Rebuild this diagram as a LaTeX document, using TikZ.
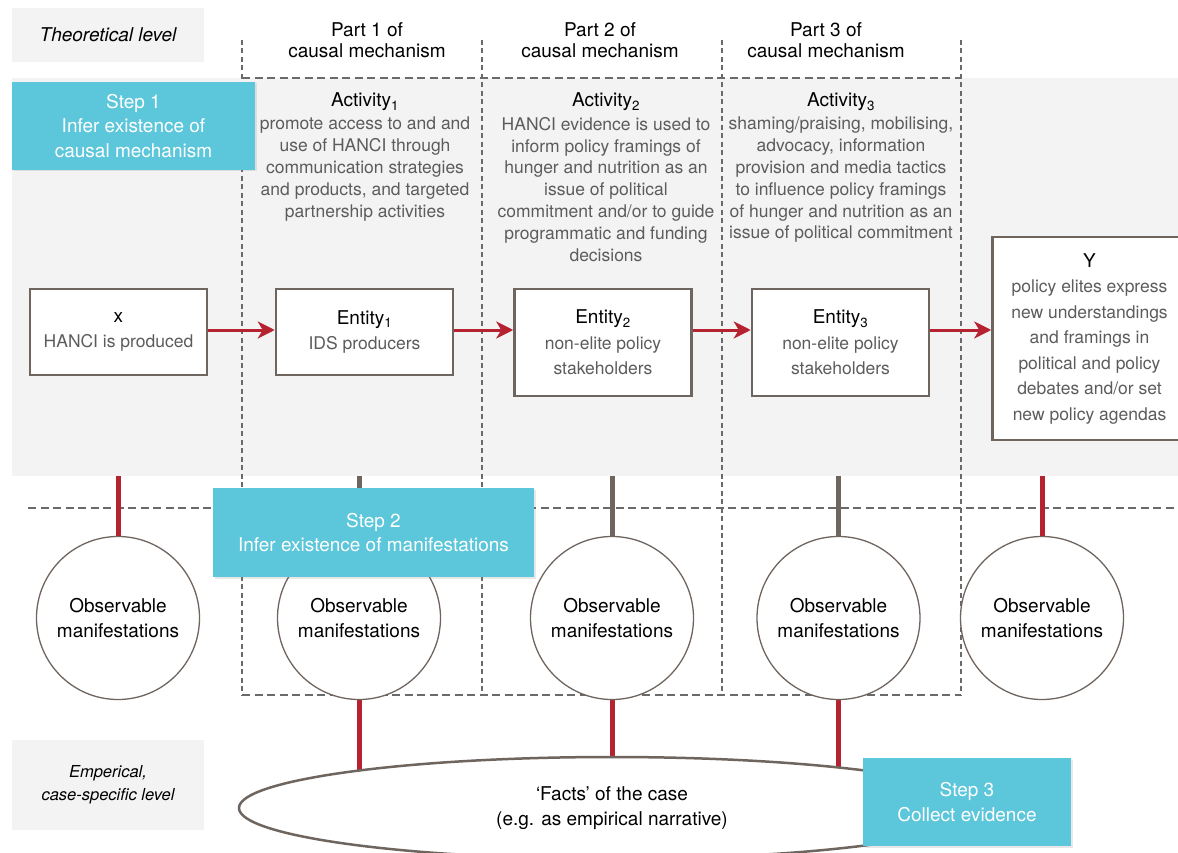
\documentclass[tikz,border=0pt]{standalone}
\usepackage{fontspec}
\setmainfont{TeX Gyre Heros}
\usepackage{xcolor}
\usepackage{tikz}
\usetikzlibrary{shapes.geometric, arrows.meta, positioning, backgrounds, shadows}
\definecolor{stepcyan}{HTML}{5CC6DA}
\definecolor{linkred}{HTML}{B52330}
\definecolor{framegray}{HTML}{6F655F}
\definecolor{bandgray}{HTML}{F3F3F3}
\definecolor{textgray}{HTML}{5C5C5C}
\definecolor{dashgray}{HTML}{6A6A6A}
\newcommand{\headsize}{\fontsize{19}{24.5}\selectfont}
\newcommand{\subsize}{\fontsize{17.5}{25.5}\selectfont}
\newcommand{\bodysize}{\fontsize{17.5}{21.8}\selectfont}
\tikzstyle{entity} = [rectangle, draw=framegray, line width=2.5pt, fill=white, align=center, inner sep=0pt, minimum width=177pt, font=\subsize]
\tikzstyle{stepbox} = [rectangle, fill=stepcyan, text=white, align=center, inner sep=0pt, font=\headsize, drop shadow={shadow xshift=1.5pt, shadow yshift=-1.5pt, opacity=0.18}]
\tikzstyle{levelbox} = [rectangle, fill=bandgray, align=center, inner sep=0pt]
\tikzstyle{obs} = [circle, draw=framegray, line width=1.3pt, fill=white, minimum size=163pt, align=center, inner sep=0pt, font=\headsize]
\tikzstyle{heading} = [align=center, inner sep=0pt, font=\headsize]
\tikzstyle{bodytext} = [align=center, inner sep=0pt, text=textgray, font=\bodysize]
\tikzstyle{arrow} = [linkred, line width=3pt, -{Stealth[length=17pt, width=17pt, inset=5pt]}]
\tikzstyle{redlink} = [linkred, line width=5pt]
\tikzstyle{graylink} = [framegray, line width=5pt]
\tikzstyle{vdivider} = [dashgray, line width=1.2pt, dash pattern=on 5pt off 3.5pt]
\tikzstyle{hdivider} = [dashgray, line width=1.3pt, dash pattern=on 8pt off 4.5pt]

\begin{document}
\begin{tikzpicture}[x=1pt, y=-1pt]
\useasboundingbox (0,0) rectangle (1178,853);
\clip (0,0) rectangle (1178,853);

% theoretical band and column grid
\fill[bandgray] (12,78) rectangle (1178,476);
\foreach \xx in {242,482,722,961}
  \draw[vdivider] (\xx,40) -- (\xx,695);
\draw[hdivider] (242,78) -- (961,78);
\draw[hdivider] (242,695) -- (961,695);
\draw[hdivider] (28,508) -- (1178,508);
\coordinate (bandfoot) at (0,476);

% level labels
\node (theory) [levelbox, minimum width=192pt, minimum height=54pt, font=\itshape\fontsize{19}{24}\selectfont] at (108,35) {Theoretical level};
\node (empiric) [levelbox, minimum width=192pt, minimum height=90pt, font=\itshape\fontsize{16.5}{23}\selectfont] at (108,785) {Emperical,\\case-specific level};

% parts of the mechanism
\node (part1) [heading, font=\fontsize{19}{20.5}\selectfont] at (367,40) {Part 1 of\\causal mechanism};
\node (part2) [heading, font=\fontsize{19}{20.5}\selectfont] at (600,40) {Part 2 of\\causal mechanism};
\node (part3) [heading, font=\fontsize{19}{20.5}\selectfont] at (826,40) {Part 3 of\\causal mechanism};

% activities
\node (act1) [heading, anchor=base] at (365,107) {Activity\textsubscript{1}};
\node (act1txt) [bodytext, anchor=north] at (365,117) {promote access to and and\\use of HANCI through\\communication strategies\\and products, and targeted\\partnership activities};
\node (act2) [heading, anchor=base] at (606,107) {Activity\textsubscript{2}};
\node (act2txt) [bodytext, anchor=north] at (606,117) {HANCI evidence is used to\\inform policy framings of\\hunger and nutrition as an\\issue of political\\commitment and/or to guide\\programmatic and funding\\decisions};
\node (act3) [heading, anchor=base] at (841,107) {Activity\textsubscript{3}};
\node (act3txt) [bodytext, anchor=north] at (841,117) {shaming/praising, mobilising,\\advocacy, information\\provision and media tactics\\to influence policy framings\\of hunger and nutrition as an\\issue of political commitment};

% entities
\node (xbox) [entity, minimum height=86pt] at (118.5,332) {{\headsize x}\\{\color{textgray}HANCI is produced}};
\node (ent1) [entity, minimum height=86pt] at (364.5,332) {{\headsize Entity\textsubscript{1}}\\{\color{textgray}IDS producers}};
\node (ent2) [entity, minimum height=107pt] at (603,342.5) {{\headsize Entity\textsubscript{2}}\\{\color{textgray}non-elite policy}\\{\color{textgray}stakeholders}};
\node (ent3) [entity, minimum height=107pt] at (840.5,342.5) {{\headsize Entity\textsubscript{3}}\\{\color{textgray}non-elite policy}\\{\color{textgray}stakeholders}};
\node (ybox) [entity, minimum width=194pt, minimum height=203pt] at (1089.5,338.5) {{\headsize Y}\\{\color{textgray}policy elites express}\\{\color{textgray}new understandings}\\{\color{textgray}and framings in}\\{\color{textgray}political and policy}\\{\color{textgray}debates and/or set}\\{\color{textgray}new policy agendas}};

\draw[arrow] (xbox.east |- 0,330) -- (ent1.west |- 0,330);
\draw[arrow] (ent1.east |- 0,330) -- (ent2.west |- 0,330);
\draw[arrow] (ent2.east |- 0,330) -- (ent3.west |- 0,330);
\draw[arrow] (ent3.east |- 0,330) -- (ybox.west |- 0,330);

% observable manifestations
\node (obs1) [obs] at (118,618) {Observable\\manifestations};
\node (obs2) [obs] at (359,618) {Observable\\manifestations};
\node (obs3) [obs] at (612,618) {Observable\\manifestations};
\node (obs4) [obs] at (838.5,618) {Observable\\manifestations};
\node (obs5) [obs] at (1042,618) {Observable\\manifestations};

\draw[redlink] (obs1.north |- bandfoot) -- (obs1.north);
\draw[graylink] (obs2.north |- bandfoot) -- (obs2.north);
\draw[graylink] (obs3.north |- bandfoot) -- (obs3.north);
\draw[graylink] (obs4.north |- bandfoot) -- (obs4.north);
\draw[redlink] (obs5.north |- bandfoot) -- (obs5.north);

% empirical facts
\node (facts) [ellipse, draw=framegray, line width=2.5pt, fill=white, minimum width=746pt, minimum height=102pt, align=center, inner sep=0pt, font=\headsize] at (612,808) {‘Facts’ of the case\\(e.g. as empirical narrative)};
\begin{scope}[on background layer]
  \draw[redlink] (obs2.south) -- (obs2.south |- facts.center);
  \draw[redlink] (obs3.south) -- (obs3.south |- facts.center);
  \draw[redlink] (obs4.south) -- (obs4.south |- facts.center);
\end{scope}

% steps
\node (step1) [stepbox, minimum width=243pt, minimum height=88pt] at (133.5,126) {Step 1\\Infer existence of\\causal mechanism};
\node (step2) [stepbox, minimum width=321pt, minimum height=89pt] at (373.5,532.5) {Step 2\\Infer existence of manifestations};
\node (step3) [stepbox, minimum width=208pt, minimum height=88pt] at (967,802) {Step 3\\Collect evidence};
\end{tikzpicture}
\end{document}
